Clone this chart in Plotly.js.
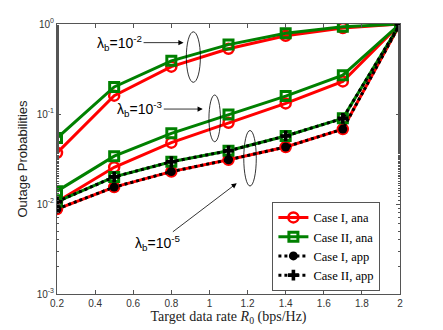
<!DOCTYPE html>
<html>
<head>
<meta charset="utf-8">
<script src="https://cdn.plot.ly/plotly-3.0.1.min.js"></script>
<style>
  html, body { margin: 0; padding: 0; background: #fff; }
  #chart { width: 443px; height: 330px; }
</style>
</head>
<body>
<div id="chart"></div>
<script>
/* ---- data ---- */
const RATES = [0.2, 0.5, 0.8, 1.1, 1.4, 1.7, 2.0];

// lambda_b = 1e-2
const L2_CASE1_ANA = [0.037, 0.16, 0.336, 0.53, 0.74, 0.90, 1];
const L2_CASE2_ANA = [0.054, 0.20, 0.39, 0.59, 0.79, 0.93, 1];
// lambda_b = 1e-3
const L3_CASE1_ANA = [0.0106, 0.0256, 0.048, 0.080, 0.131, 0.23, 1];
const L3_CASE2_ANA = [0.0139, 0.034, 0.061, 0.099, 0.158, 0.27, 1];
// lambda_b = 1e-5 (ana and app overlap)
const L5_CASE1_ANA = [0.0088, 0.0154, 0.0229, 0.031, 0.043, 0.068, 1];
const L5_CASE2_ANA = [0.0106, 0.020, 0.0295, 0.039, 0.057, 0.0895, 1];
const L5_CASE1_APP = [0.0088, 0.0154, 0.0229, 0.031, 0.043, 0.068, 1];
const L5_CASE2_APP = [0.0106, 0.020, 0.0295, 0.039, 0.057, 0.0895, 1];

const Y_TICKVALS = [0.001, 0.01, 0.1, 1];
const Y_TICKTEXT = ["10<sup>-3</sup>", "10<sup>-2</sup>", "10<sup>-1</sup>", "10<sup>0</sup>"];

const LEGEND_NAMES = ["Case I, ana", "Case II, ana", "Case I, app", "Case II, app"];

/* ---- styles ---- */
const RED = "rgb(255,0,0)";
const GREEN = "rgb(0,128,0)";
const SANS = "Liberation Sans, Arial, sans-serif";
const SERIF = "Liberation Serif, Times New Roman, serif";

function anaTrace(y, kind, showLegend) {
  const isI = kind === 1;
  return {
    x: RATES, y: y, type: "scatter", mode: "lines+markers",
    name: LEGEND_NAMES[isI ? 0 : 1], showlegend: showLegend,
    line: { color: isI ? RED : GREEN, width: 3 },
    marker: isI
      ? { symbol: "circle-open", size: 10, color: RED, line: { width: 2.5, color: RED } }
      : { symbol: "square-open", size: 9, color: GREEN, line: { width: 3, color: GREEN } }
  };
}

function appTrace(y, kind, showLegend) {
  const isI = kind === 1;
  return {
    x: RATES, y: y, type: "scatter", mode: "lines+markers",
    name: LEGEND_NAMES[isI ? 2 : 3], showlegend: showLegend,
    line: { color: "black", width: 3, dash: "dot" },
    marker: isI
      ? { symbol: "circle", size: 9, color: "black" }
      : { symbol: "cross", size: 9, color: "black" }
  };
}

const traces = [
  anaTrace(L2_CASE1_ANA, 1, true),
  anaTrace(L2_CASE2_ANA, 2, true),
  anaTrace(L3_CASE1_ANA, 1, false),
  anaTrace(L3_CASE2_ANA, 2, false),
  anaTrace(L5_CASE1_ANA, 1, false),
  anaTrace(L5_CASE2_ANA, 2, false),
  appTrace(L5_CASE1_APP, 1, true),
  appTrace(L5_CASE2_APP, 2, true)
];

function ellipse(x0, x1, y0, y1) {
  return { type: "circle", xref: "paper", yref: "paper", x0, x1, y0, y1,
           line: { color: "black", width: 0.8 } };
}

function lambdaNote(exp, x, y, ax, ay) {
  return {
    xref: "paper", yref: "paper", x, y, ax, ay,
    text: "λ<sub>b</sub>=10<sup>" + exp + "</sup>",
    showarrow: true, arrowhead: 2, arrowsize: 1.3, arrowwidth: 0.8, arrowcolor: "black",
    font: { family: SANS, size: 14, color: "black" }
  };
}

const axisCommon = {
  showline: true, linecolor: "#555", linewidth: 1, mirror: "ticks",
  ticks: "inside", ticklen: 4, tickcolor: "#555",
  showgrid: false, zeroline: false,
  tickfont: { family: SANS, size: 10, color: "#333" }
};

const layout = {
  width: 443, height: 330,
  margin: { l: 57, r: 43, t: 24, b: 36 },
  paper_bgcolor: "white", plot_bgcolor: "white",
  showlegend: true,
  legend: {
    x: 0.628, y: 0.012, xanchor: "left", yanchor: "bottom",
    bgcolor: "white", bordercolor: "#555", borderwidth: 1,
    font: { family: SERIF, size: 12.5, color: "black" },
    tracegroupgap: 0, itemwidth: 30
  },
  xaxis: Object.assign({}, axisCommon, {
    range: [0.2, 2], tick0: 0.2, dtick: 0.2,
    title: { text: "Target data rate <i>R</i><sub>0</sub> (bps/Hz)", standoff: 2,
             font: { family: SERIF, size: 14, color: "#222" } }
  }),
  yaxis: Object.assign({}, axisCommon, {
    type: "log", range: [-3, 0],
    tickmode: "array", tickvals: Y_TICKVALS, ticktext: Y_TICKTEXT,
    minor: { ticks: "inside", ticklen: 2, tickcolor: "#555", showgrid: false },
    title: { text: "Outage Probabilities", standoff: 6,
             font: { family: SANS, size: 13, color: "#222" } }
  }),
  shapes: [
    ellipse(0.377, 0.418, 0.784, 0.971),
    ellipse(0.443, 0.4765, 0.564, 0.737),
    ellipse(0.5445, 0.581, 0.40, 0.6056)
  ],
  annotations: [
    lambdaNote("-2", 0.369, 0.931, -64, 0),
    lambdaNote("-3", 0.425, 0.685, -63, 0),
    lambdaNote("-5", 0.524, 0.41, -79, 60)
  ]
};

Plotly.newPlot("chart", traces, layout, { staticPlot: true, displayModeBar: false });
</script>
</body>
</html>
